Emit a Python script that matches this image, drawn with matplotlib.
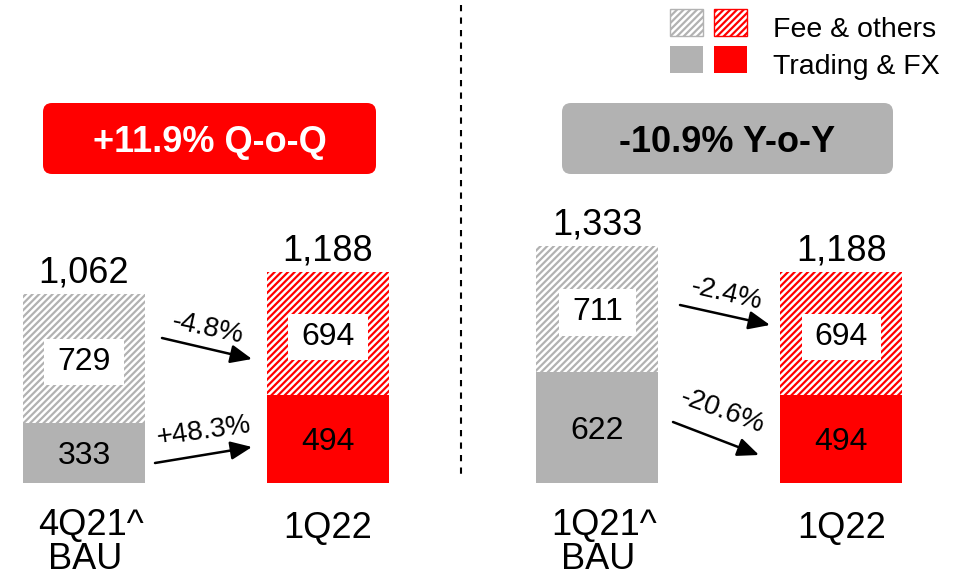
# Trading & FX vs Fee & others: Q-o-Q and Y-o-Y comparison

import matplotlib
matplotlib.use('Agg')
import matplotlib.pyplot as plt
from matplotlib.patches import FancyBboxPatch, Rectangle

plt.rcParams['font.family'] = ['Liberation Sans', 'DejaVu Sans']
plt.rcParams['hatch.linewidth'] = 1.6

categories = ['4Q21^\nBAU', '1Q22', '1Q21^\nBAU', '1Q22']
trading = [333, 494, 622, 494]
fee = [729, 694, 711, 694]
base_color = ['#b2b2b2', '#ff0000', '#b2b2b2', '#ff0000']
titles = ['Q-o-Q', 'Y-o-Y']
legend_labels = ['Fee & others', 'Trading & FX']

totals = [t + f for t, f in zip(trading, fee)]

# bar centres (pixel-like x units) and value->pixel scale
xpos = [84, 328, 597.5, 841.5]
bar_w = 122
y_zero = 482.5
px_per_unit = 0.1775

W, H = 958, 578
fig = plt.figure(figsize=(W / 100, H / 100), dpi=100)
ax = fig.add_axes([0, 0, 1, 1])
ax.set_xlim(0, W)
ax.set_ylim(-(H - y_zero) / px_per_unit, y_zero / px_per_unit)
ax.axis('off')

# overlay in pixel coordinates for decorations
px = fig.add_axes([0, 0, 1, 1], zorder=3)
px.set_xlim(0, W)
px.set_ylim(H, 0)
px.axis('off')
px.patch.set_alpha(0)

ax.bar(xpos, trading, width=bar_w, color=base_color, linewidth=0)
ax.bar(xpos, fee, width=bar_w, bottom=trading, color='white',
       edgecolor=base_color, hatch='/////', linewidth=0)

for x, t, f, tot in zip(xpos, trading, fee, totals):
    ax.text(x, t / 2, str(t), ha='center', va='center_baseline', fontsize=23)
    ax.text(x, t + f / 2, str(f), ha='center', va='center_baseline', fontsize=23,
            bbox=dict(boxstyle='square,pad=0.41', mutation_aspect=0.62,
                      fc='white', ec='none'))
    ax.annotate('{:,}'.format(tot), (x, tot), xytext=(0, 8), textcoords='offset points',
                ha='center', va='baseline', fontsize=26)

# category labels below the bars
for x, lab in zip(xpos, categories):
    if '\n' in lab:
        px.text(x - 46, 577, lab.replace('\n', '\n '), ha='left', va='bottom',
                multialignment='left', fontsize=26, linespacing=0.98)
    else:
        px.text(x, 538, lab, ha='center', va='baseline', fontsize=26)

# growth arrows between the two bars of each panel
arrows = [((162, 338), (252, 359)), ((155, 463), (252, 447)),
          ((680, 305), (770, 325)), ((673, 422), (759, 455))]
pct_pos = [(208, 329, -12), (204, 431, 8), (727, 294, -13), (722, 411, -20)]
pairs = [(fee[0], fee[1]), (trading[0], trading[1]),
         (fee[2], fee[3]), (trading[2], trading[3])]
for (a, b), (p0, p1), (tx, ty, rot) in zip(pairs, arrows, pct_pos):
    px.annotate('', xy=p1, xytext=p0,
                arrowprops=dict(arrowstyle='-|>,head_length=0.65,head_width=0.28',
                                mutation_scale=20, lw=1.8, color='black',
                                shrinkA=0, shrinkB=0))
    px.text(tx, ty, '{:+.1f}%'.format((b / a - 1) * 100), rotation=rot,
            ha='center', va='center', fontsize=20, rotation_mode='anchor')

# headline change boxes
for (x0, y0, w, h), fc, tc, (a, b), name in zip(
        [(43, 103, 333, 71), (562, 103, 331, 71)],
        ['#ff0000', '#b2b2b2'], ['white', 'black'],
        [(totals[0], totals[1]), (totals[2], totals[3])], titles):
    px.add_patch(FancyBboxPatch((x0, y0), w, h, boxstyle='round,pad=0,rounding_size=9',
                                fc=fc, ec='none'))
    px.text(x0 + w / 2, y0 + h / 2, '{:+.1f}% {}'.format((b / a - 1) * 100, name),
            ha='center', va='center_baseline', fontsize=26, fontweight='bold', color=tc)

# panel divider
px.plot([461, 461], [5, 476], color='black', lw=1.5, linestyle=(0, (3, 3)))

# legend
for row, (hatch, lab) in enumerate([('/////', legend_labels[0]), (None, legend_labels[1])]):
    y = 9 + row * 37
    for i, c in enumerate(['#b2b2b2', '#ff0000']):
        if hatch:
            px.add_patch(Rectangle((670 + i * 44, y), 33, 27, fc='white', ec=c,
                                   hatch=hatch, lw=1))
        else:
            px.add_patch(Rectangle((670 + i * 44, y), 33, 27, fc=c, ec='none'))
    px.text(773, y + 28, lab, ha='left', va='baseline', fontsize=20.5)

fig.savefig('out.png', dpi=100)
